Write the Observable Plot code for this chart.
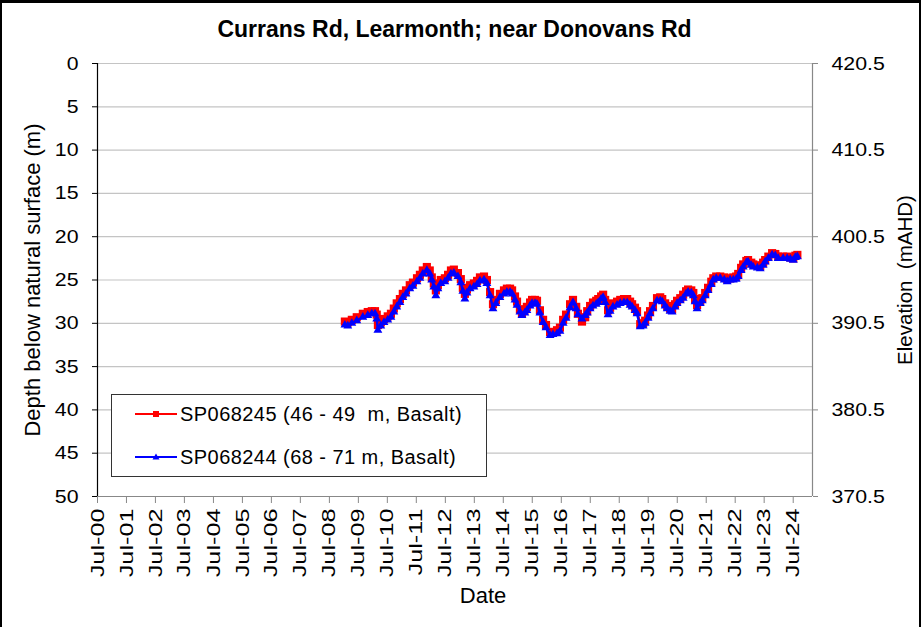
<!DOCTYPE html>
<html>
<head>
<meta charset="utf-8">
<script src="https://cdn.jsdelivr.net/npm/d3@7"></script>
<script src="https://cdn.jsdelivr.net/npm/@observablehq/plot@0.6"></script>
<style>
  body { margin: 0; background: #fff; font-family: "Liberation Sans", Arial, sans-serif; }
  #wrap { position: relative; width: 921px; height: 627px; overflow: hidden; background: #fff; }
  #frame { position: absolute; left: 0; top: 0; width: 921px; height: 700px; box-sizing: border-box;
           border: 2px solid #000; border-top-width: 3px; pointer-events: none; }
  #chart { position: absolute; left: 0; top: 0; }
  .lbl { position: absolute; white-space: pre; color: #000; line-height: 1; }
  #title { left: 0; width: 909px; top: 18px; text-align: center; font-weight: bold; font-size: 23px; }
  #xlab { left: 483px; top: 585px; font-size: 22px; transform: translateX(-50%); }
  #ylab { left: 33px; top: 280px; font-size: 22px; transform: translate(-50%, -50%) rotate(-90deg); }
  #y2lab { left: 905px; top: 280px; font-size: 20.5px; transform: translate(-50%, -50%) rotate(-90deg); }
  #legend { position: absolute; left: 111px; top: 394px; width: 376px; height: 83px; box-sizing: border-box;
            border: 1px solid #333; background: #fff; }
  #legend svg { position: absolute; left: 23px; }
  #legend .t { position: absolute; left: 68px; font-size: 20px; line-height: 20px; white-space: pre; letter-spacing: 0.45px; }
</style>
</head>
<body>
<div id="wrap">
  <div id="chart"></div>
  <div id="title" class="lbl"></div>
  <div id="xlab" class="lbl"></div>
  <div id="ylab" class="lbl"></div>
  <div id="y2lab" class="lbl"></div>
  <div id="legend"></div>
  <div id="frame"></div>
</div>
<script>
// ---- text ----
const titleText = "Currans Rd, Learmonth; near Donovans Rd";
const xTitle = "Date";
const yTitle = "Depth below natural surface (m)";
const y2Title = "Elevation  (mAHD)";
const seriesNames = ["SP068245 (46 - 49  m, Basalt)", "SP068244 (68 - 71 m, Basalt)"];
const seriesColors = ["#ff0000", "#0000ff"];

// ---- axes ----
const leftTicks = [0, 5, 10, 15, 20, 25, 30, 35, 40, 45, 50];
const gridDepths = [0, 5, 10, 15, 20, 25, 30, 35, 40, 45];
const rightTickDepths = [0, 10, 20, 30, 40, 50];
const rightTickLabels = ["420.5", "410.5", "400.5", "390.5", "380.5", "370.5"];
const xTickYears = [2000, 2001, 2002, 2003, 2004, 2005, 2006, 2007, 2008, 2009, 2010, 2011, 2012,
                    2013, 2014, 2015, 2016, 2017, 2018, 2019, 2020, 2021, 2022, 2023, 2024];
const xTickLabels = ["Jul-00", "Jul-01", "Jul-02", "Jul-03", "Jul-04", "Jul-05", "Jul-06", "Jul-07",
                     "Jul-08", "Jul-09", "Jul-10", "Jul-11", "Jul-12", "Jul-13", "Jul-14", "Jul-15",
                     "Jul-16", "Jul-17", "Jul-18", "Jul-19", "Jul-20", "Jul-21", "Jul-22", "Jul-23", "Jul-24"];

// ---- observations (decimal years) ----
const obsYears = [
  2009.03, 2009.13, 2009.27, 2009.44, 2009.65, 2009.82, 2009.96, 2010.07, 2010.13, 2010.17,
  2010.27, 2010.38, 2010.51, 2010.62, 2010.72, 2010.82, 2010.93, 2011.03, 2011.14, 2011.27,
  2011.38, 2011.52, 2011.62, 2011.72, 2011.86, 2011.96, 2012.03, 2012.10, 2012.17, 2012.24,
  2012.34, 2012.48, 2012.59, 2012.69, 2012.79, 2012.93, 2013.03, 2013.10, 2013.17, 2013.24,
  2013.35, 2013.48, 2013.59, 2013.69, 2013.83, 2013.93, 2014.04, 2014.14, 2014.24, 2014.38,
  2014.52, 2014.62, 2014.73, 2014.80, 2014.90, 2014.97, 2015.07, 2015.14, 2015.24, 2015.31,
  2015.42, 2015.49, 2015.59, 2015.66, 2015.76, 2015.87, 2015.97, 2016.11, 2016.21, 2016.35,
  2016.45, 2016.56, 2016.66, 2016.80, 2016.90, 2017.01, 2017.07, 2017.21, 2017.32, 2017.39,
  2017.49, 2017.59, 2017.70, 2017.77, 2017.87, 2017.94, 2018.01, 2018.11, 2018.18, 2018.28,
  2018.42, 2018.53, 2018.66, 2018.77, 2018.87, 2018.94, 2019.04, 2019.11, 2019.22, 2019.32,
  2019.39, 2019.49, 2019.56, 2019.66, 2019.80, 2019.91, 2019.98, 2020.08, 2020.15, 2020.25,
  2020.32, 2020.42, 2020.49, 2020.60, 2020.70, 2020.80, 2020.87, 2020.98, 2021.05, 2021.11,
  2021.18, 2021.29, 2021.36, 2021.46, 2021.56, 2021.67, 2021.74, 2021.84, 2021.98, 2022.12,
  2022.22, 2022.32, 2022.43, 2022.53, 2022.60, 2022.70, 2022.77, 2022.88, 2022.94, 2023.05,
  2023.12, 2023.26, 2023.36, 2023.46, 2023.53, 2023.64, 2023.77, 2023.88, 2023.98, 2024.15,
  2024.29, 2024.40, 2024.50, 2024.57, 2024.64
];
// SP068245 depth (m)
const depth245 = [
  29.8, 29.9, 29.6, 29.3, 28.9, 28.7, 28.6, 28.6, 29.0, 30.2,
  29.9, 29.5, 29.2, 28.9, 28.3, 27.7, 27.2, 26.6, 26.2, 25.6,
  25.3, 24.8, 24.4, 23.9, 23.5, 23.9, 24.7, 25.4, 26.2, 25.6,
  25.0, 24.8, 24.4, 23.9, 23.8, 24.2, 24.9, 25.9, 26.6, 26.1,
  25.6, 25.4, 25.1, 24.7, 24.6, 25.0, 26.4, 27.8, 27.3, 26.6,
  26.2, 26.0, 26.0, 26.2, 26.9, 27.5, 28.4, 28.8, 28.4, 28.1,
  27.6, 27.3, 27.3, 27.4, 28.5, 29.6, 30.2, 31.0, 31.0, 30.8,
  30.5, 29.6, 29.0, 27.8, 27.3, 28.1, 28.9, 29.8, 29.3, 28.6,
  28.0, 27.6, 27.4, 27.2, 26.9, 26.7, 27.3, 28.5, 28.2, 27.7,
  27.5, 27.3, 27.2, 27.2, 27.5, 27.8, 28.2, 28.6, 30.1, 30.0,
  29.7, 29.1, 28.6, 28.0, 27.1, 27.0, 27.2, 27.7, 28.0, 28.3,
  28.4, 27.8, 27.4, 27.1, 26.7, 26.3, 26.1, 26.2, 26.5, 27.2,
  27.9, 27.4, 27.1, 26.5, 25.9, 25.2, 24.8, 24.6, 24.6, 24.7,
  24.9, 24.8, 24.7, 24.6, 24.3, 23.6, 23.2, 22.8, 22.7, 23.0,
  23.2, 23.3, 23.4, 23.0, 22.7, 22.3, 21.9, 22.0, 22.3, 22.3,
  22.3, 22.4, 22.5, 22.2, 22.1
];
// SP068244 depth (m)
const depth244 = [
  30.2, 30.3, 30.0, 29.7, 29.3, 29.1, 28.9, 28.9, 29.5, 30.8,
  30.3, 29.9, 29.6, 29.3, 28.7, 28.1, 27.6, 27.0, 26.6, 26.0,
  25.7, 25.2, 24.8, 24.3, 23.9, 24.3, 25.0, 25.8, 26.8, 26.0,
  25.4, 25.2, 24.8, 24.3, 24.2, 24.6, 25.3, 26.3, 27.2, 26.5,
  26.0, 25.8, 25.5, 25.1, 25.0, 25.4, 26.8, 28.3, 27.7, 27.0,
  26.6, 26.4, 26.4, 26.6, 27.3, 27.9, 28.7, 29.1, 28.8, 28.5,
  28.0, 27.7, 27.7, 27.8, 28.8, 29.9, 30.5, 31.4, 31.3, 31.2,
  30.9, 30.0, 29.4, 28.2, 27.6, 28.3, 29.0, 29.5, 29.1, 28.8,
  28.3, 28.0, 27.8, 27.6, 27.2, 27.0, 27.6, 29.0, 28.6, 28.1,
  27.9, 27.7, 27.6, 27.6, 27.9, 28.1, 28.5, 28.9, 30.4, 30.3,
  30.0, 29.4, 28.9, 28.3, 27.4, 27.4, 27.5, 28.0, 28.3, 28.6,
  28.7, 28.1, 27.7, 27.4, 27.1, 26.6, 26.4, 26.5, 26.8, 27.5,
  28.3, 27.7, 27.4, 26.8, 26.2, 25.5, 25.0, 24.8, 24.8, 25.0,
  25.2, 25.0, 25.0, 24.9, 24.6, 23.9, 23.5, 23.0, 22.9, 23.3,
  23.5, 23.6, 23.7, 23.3, 22.9, 22.5, 22.1, 22.2, 22.5, 22.5,
  22.5, 22.6, 22.7, 22.4, 22.3
];

// ---- build ----
const toDate = v => {
  const y = Math.floor(v), s = Date.UTC(y, 0, 1), e = Date.UTC(y + 1, 0, 1);
  return new Date(s + (v - y) * (e - s));
};
const s245 = obsYears.map((t, i) => ({date: toDate(t), depth: depth245[i]}));
const s244 = obsYears.map((t, i) => ({date: toDate(t), depth: depth244[i]}));
const xDomain = [new Date(Date.UTC(2000, 6, 1)), new Date(Date.UTC(2025, 2, 1))];
const xTicks = xTickYears.map(y => new Date(Date.UTC(y, 6, 1)));
const xLabelMap = new Map(xTicks.map((d, i) => [+d, xTickLabels[i]]));
const rLabelMap = new Map(rightTickDepths.map((d, i) => [d, rightTickLabels[i]]));

const chart = Plot.plot({
  width: 921, height: 627,
  marginLeft: 97, marginRight: 109, marginTop: 63, marginBottom: 131,
  style: {fontFamily: "'Liberation Sans', Arial, sans-serif", fontSize: "19px", color: "#000", background: "transparent", overflow: "visible"},
  x: {type: "utc", domain: xDomain, label: null},
  y: {domain: [0, 50], reverse: true, label: null},
  marks: [
    Plot.ruleY(gridDepths, {stroke: "#c4c4c4", strokeWidth: 1.2}),
    Plot.ruleX([xDomain[1]], {stroke: "#888", strokeWidth: 1.2}),
    Plot.ruleY([50], {stroke: "#888", strokeWidth: 1.2}),
    Plot.ruleX([xDomain[0]], {stroke: "#000", strokeWidth: 1.2}),
    Plot.axisY({ticks: leftTicks, tickSize: 5, tickPadding: 14, label: null, stroke: "#000", tickFormat: d => String(d)}),
    Plot.axisY({anchor: "right", ticks: rightTickDepths, tickSize: 5, tickPadding: 14, label: null, stroke: "#888", tickFormat: d => rLabelMap.get(d)}),
    Plot.axisX({ticks: xTicks, tickSize: 7, tickPadding: 5, tickRotate: -90, label: null, stroke: "#888", tickFormat: d => xLabelMap.get(+d)}),
    Plot.line(s245, {x: "date", y: "depth", stroke: seriesColors[0], strokeWidth: 2.5}),
    Plot.dot(s245, {x: "date", y: "depth", symbol: "square", r: 4.6, fill: seriesColors[0], stroke: "none"}),
    Plot.line(s244, {x: "date", y: "depth", stroke: seriesColors[1], strokeWidth: 2.5}),
    Plot.dot(s244, {x: "date", y: "depth", symbol: "triangle", r: 3.3, fill: seriesColors[1], stroke: "none"})
  ]
});
document.getElementById("chart").appendChild(chart);

// widen tick text to match the reference's wide rendering
function stretch(sel, k) {
  chart.querySelectorAll(sel).forEach(t => {
    const L = t.getComputedTextLength();
    if (L > 0) { t.setAttribute("textLength", (L * k).toFixed(1)); t.setAttribute("lengthAdjust", "spacingAndGlyphs"); }
  });
}
stretch('g[aria-label="y-axis tick label"] text', 1.12);
stretch('g[aria-label="x-axis tick label"] text', 1.33);

document.getElementById("title").textContent = titleText;
document.getElementById("xlab").textContent = xTitle;
document.getElementById("ylab").textContent = yTitle;
document.getElementById("y2lab").textContent = y2Title;

// legend
const legend = document.getElementById("legend");
const rowsY = [19, 62];
seriesNames.forEach((name, i) => {
  const svg = d3.create("svg").attr("width", 44).attr("height", 12).style("top", (rowsY[i] - 6) + "px");
  svg.append("line").attr("x1", 0).attr("x2", 42).attr("y1", 6).attr("y2", 6).attr("stroke", seriesColors[i]).attr("stroke-width", 2);
  if (i === 0) svg.append("rect").attr("x", 18).attr("y", 3).attr("width", 6).attr("height", 6).attr("fill", seriesColors[i]);
  else svg.append("path").attr("d", "M21,2.5L24.5,8.5L17.5,8.5Z").attr("fill", seriesColors[i]);
  legend.appendChild(svg.node());
  const t = document.createElement("div");
  t.className = "t";
  t.style.top = (rowsY[i] - 10) + "px";
  t.textContent = name;
  legend.appendChild(t);
});
</script>
</body>
</html>
